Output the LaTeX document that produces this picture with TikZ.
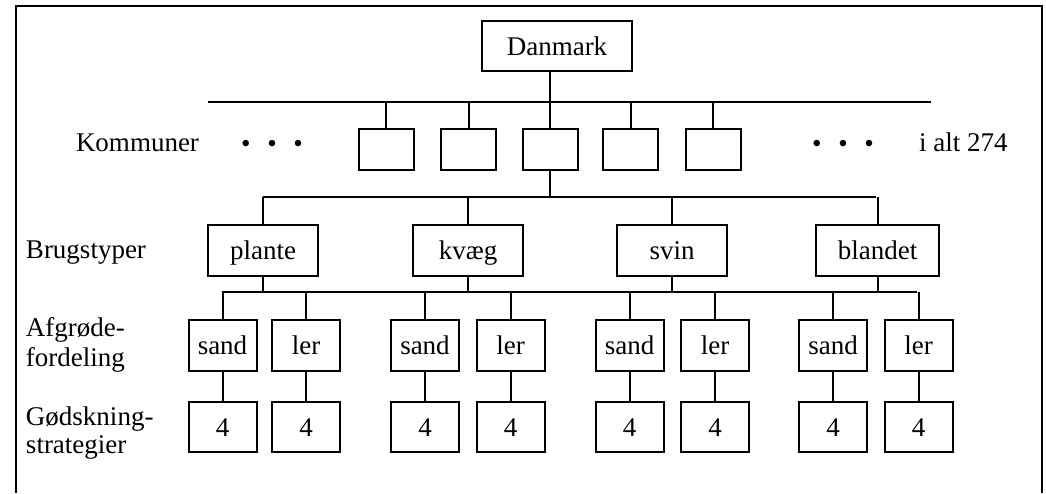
\documentclass[tikz,border=0pt]{standalone}
\usepackage{fontspec}
\setmainfont{Liberation Serif}
\begin{document}
\begin{tikzpicture}[x=0.75pt,y=-0.75pt,
  line width=1.5pt,
  every node/.style={font=\fontsize{20.25}{22}\selectfont, inner sep=0pt},
  box/.style={draw, line width=1.5pt, fill=white, text height=18pt, text depth=4pt},
  kbox/.style={box, minimum width=41.25pt, minimum height=30.75pt},
  bbox/.style={box, minimum width=82.5pt, minimum height=38.25pt},
  abox/.style={box, minimum width=51pt, minimum height=38.25pt},
  fbox/.style={box, minimum width=51pt, minimum height=37.5pt},
  lbl/.style={anchor=base west},
  conn/.style={line width=1.5pt}]
\useasboundingbox (0,0) rectangle (1046,493);
% frame
\coordinate (fbl) at (16,493);
\coordinate (ftl) at (16,6);
\coordinate (ftr) at (1042,6);
\coordinate (fbr) at (1042,493);
\draw[line width=1.6pt] (fbl) -- (ftl) -- (ftr) -- (fbr);

% top
\node[box, minimum width=112.5pt, minimum height=37.5pt] (dk) at (557,46) {Danmark};

% kommuner
\foreach \i/\x in {1/386,2/468.5,3/550,4/630.5,5/713}
  \node[kbox] (k\i) at (\x,149.5) {};
\coordinate (b1l) at (208,102);
\coordinate (b1r) at (931,102);
\draw[conn] (b1l) -- (b1r);
\draw[conn] (dk.south -| k3) -- (k3 |- b1l);
\foreach \i in {1,...,5}
  \draw[conn] (k\i.north) -- (k\i |- b1l);

\node[lbl] (lk) at (75,151) {Kommuner};
\node (dl) at (272,146) {•\hspace{12.5pt}•\hspace{12.5pt}•};
\node (dr) at (843,146) {•\hspace{12.5pt}•\hspace{12.5pt}•};
\node[lbl] (alt) at (918,151) {i alt 274};

% brugstyper
\node[bbox] (plante) at (263,250.5) {plante};
\node[bbox] (kvaeg) at (468,250.5) {kvæg};
\node[bbox] (svin) at (672,250.5) {svin};
\node[box, minimum width=92.25pt, minimum height=38.25pt] (blandet) at (877.5,250.5) {blandet};
\coordinate (b2l) at (263,197);
\coordinate (b2r) at (876,197);
\draw[conn] (k3.south) -- (k3 |- b2l);
\draw[conn] (b2l) -- (b2r);
\foreach \n in {plante,kvaeg,svin,blandet}
  \draw[conn] (\n.north) -- (\n.north |- b2l);
\node[lbl] (lb) at (25,258) {Brugstyper};

% afgroede
\coordinate (b3l) at (222,292);
\coordinate (b3r) at (917,292);
\draw[conn] (b3l) -- (b3r);
\foreach \n in {plante,kvaeg,svin,blandet}
  \draw[conn] (\n.south) -- (\n.south |- b3l);
\foreach \i/\x/\t in {1/222.5/sand,2/306/ler,3/425/sand,4/510.5/ler,5/629.5/sand,6/715/ler,7/833/sand,8/918.5/ler}{
  \node[abox] (a\i) at (\x,345.5) {\t};
  \node[fbox] (f\i) at (\x,427) {4};
  \draw[conn] (a\i.north) -- (a\i.north |- b3l);
  \draw[conn] (a\i.south) -- (f\i.north);
}
\node[lbl] (la1) at (25,336) {Afgrøde-};
\node[lbl] (la2) at (25,366) {fordeling};
\node[lbl] (lg1) at (25,425) {Gødskning-};
\node[lbl] (lg2) at (25,453) {strategier};
\end{tikzpicture}
\end{document}
